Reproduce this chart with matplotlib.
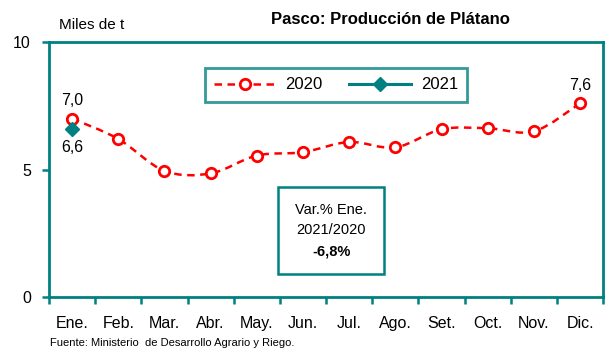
import matplotlib
matplotlib.use("Agg")
import matplotlib.pyplot as plt
from matplotlib import font_manager
from matplotlib.path import Path
from matplotlib.patches import PathPatch, Rectangle
import numpy as np

months = ["Ene.", "Feb.", "Mar.", "Abr.", "May.", "Jun.", "Jul.", "Ago.", "Set.", "Oct.", "Nov.", "Dic."]
prod_2020 = [7.0, 6.2, 4.95, 4.85, 5.55, 5.68, 6.08, 5.87, 6.58, 6.62, 6.5, 7.6]
prod_2021 = [6.6]
y_ticks = [0, 5, 10]

names = {f.name for f in font_manager.fontManager.ttflist}
family = "Liberation Sans Narrow" if "Liberation Sans Narrow" in names else "Liberation Sans"
plt.rcParams["font.family"] = [family, "DejaVu Sans"]

TEAL = "#008080"
RED = "#ff0000"

fig = plt.figure(figsize=(6.05, 3.54), dpi=100)
ax = fig.add_axes([0.081, 0.161, 0.916, 0.72])

x = np.arange(len(months))

# smooth curve through the monthly values (Catmull-Rom as cubic Bezier)
pts = np.column_stack([x, prod_2020])
verts = [tuple(pts[0])]
codes = [Path.MOVETO]
for i in range(len(pts) - 1):
    p0 = pts[i - 1] if i > 0 else pts[i]
    p1 = pts[i]
    p2 = pts[i + 1]
    p3 = pts[i + 2] if i + 2 < len(pts) else pts[i + 1]
    c1 = p1 + (p2 - p0) / 6.0
    c2 = p2 - (p3 - p1) / 6.0
    verts += [tuple(c1), tuple(c2), tuple(p2)]
    codes += [Path.CURVE4] * 3
curve = PathPatch(Path(verts, codes), fill=False, edgecolor=RED, lw=1.8,
                  linestyle=(0, (3, 2.2)), zorder=2)
ax.add_patch(curve)
ax.plot(x, prod_2020, linestyle="none", marker="o", ms=7.5, mfc="white",
        mec=RED, mew=2, zorder=3)

ax.plot(x[:len(prod_2021)], prod_2021, linestyle="none", marker="D", ms=7,
        color=TEAL, zorder=4)

# legend proxies
h20, = ax.plot([], [], color=RED, lw=1.8, linestyle=(0, (3, 2.2)), marker="o",
               ms=7.5, mfc="white", mec=RED, mew=2, label="2020")
h21, = ax.plot([], [], color=TEAL, lw=2.2, marker="D", ms=7, label="2021")
leg = ax.legend(handles=[h20, h21], loc="upper center", bbox_to_anchor=(0.518, 0.93),
                ncol=2, frameon=True, fancybox=False, fontsize=12,
                handlelength=3.7, handletextpad=0.6, columnspacing=1.6,
                borderpad=0.55)
leg.get_frame().set_edgecolor(TEAL)
leg.get_frame().set_linewidth(2)

ax.text(x[0], prod_2020[0] + 0.4, "7,0", ha="center", va="bottom", fontsize=11.5)
ax.text(x[0], prod_2021[0] - 0.45, "6,6", ha="center", va="top", fontsize=11.5)
ax.text(x[-1], prod_2020[-1] + 0.4, "7,6", ha="center", va="bottom", fontsize=11.5)

# variation note
ax.add_patch(Rectangle((0.414, 0.09), 0.19, 0.34, transform=ax.transAxes,
                       fc="white", ec=TEAL, lw=1.8, zorder=5))
ax.text(0.509, 0.342, "Var.% Ene.", transform=ax.transAxes, ha="center",
        va="center", fontsize=10.5, zorder=6)
ax.text(0.509, 0.262, "2021/2020", transform=ax.transAxes, ha="center",
        va="center", fontsize=10.5, zorder=6)
ax.text(0.509, 0.18, "-6,8%", transform=ax.transAxes, ha="center",
        va="center", fontsize=10.5, fontweight="bold", zorder=6)

ax.set_xlim(-0.5, len(months) - 0.5)
ax.set_ylim(0, 10)
ax.set_yticks(y_ticks)
ax.set_yticklabels([str(v) for v in y_ticks], fontsize=11.5)
ax.set_xticks(np.arange(len(months) + 1) - 0.5)
ax.set_xticklabels([])
ax.set_xticks(x, minor=True)
ax.set_xticklabels(months, minor=True, fontsize=11.5)
ax.tick_params(axis="x", which="minor", length=0, pad=14)
ax.tick_params(axis="x", which="major", length=5, width=1.8, color=TEAL, direction="out")
ax.tick_params(axis="y", length=5, width=1.8, color=TEAL, direction="out", pad=8)
for s in ax.spines.values():
    s.set_color(TEAL)
    s.set_linewidth(2)

fig.text(0.645, 0.945, "Pasco: Producción de Plátano", ha="center", va="center",
         fontsize=12, fontweight="bold")
fig.text(0.098, 0.93, "Miles de t", ha="left", va="center", fontsize=11)
fig.text(0.083, 0.03, "Fuente: Ministerio  de Desarrollo Agrario y Riego.", ha="left",
         va="center", fontsize=8)

fig.savefig("out.png", dpi=100)
